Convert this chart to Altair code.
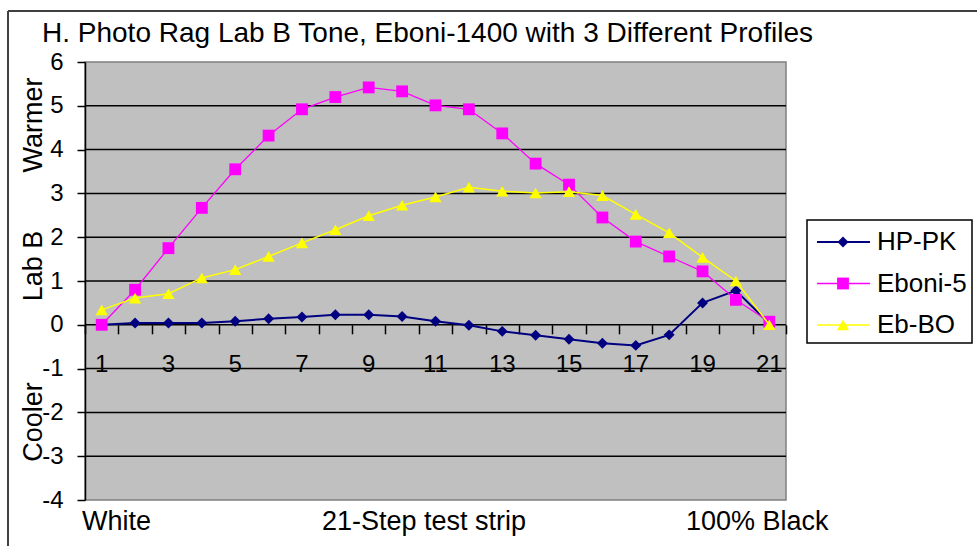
import altair as alt
import pandas as pd

# ---------------- data ----------------
steps = list(range(1, 22))
hp_pk = [0.0, 0.04, 0.04, 0.04, 0.08, 0.14, 0.18, 0.23, 0.23, 0.19, 0.08,
         -0.01, -0.15, -0.24, -0.33, -0.42, -0.47, -0.23, 0.50, 0.78, 0.03]
eboni5 = [0.0, 0.80, 1.75, 2.67, 3.55, 4.32, 4.92, 5.20, 5.42, 5.33, 5.01,
          4.92, 4.37, 3.68, 3.20, 2.45, 1.90, 1.56, 1.22, 0.57, 0.07]
ebbo = [0.34, 0.61, 0.71, 1.07, 1.26, 1.56, 1.87, 2.17, 2.49, 2.73, 2.92,
        3.14, 3.05, 3.01, 3.04, 2.95, 2.52, 2.10, 1.54, 1.00, 0.0]

series_names = ["HP-PK", "Eboni-5", "Eb-BO"]
series_values = [hp_pk, eboni5, ebbo]
series_colors = ["#000080", "#FF00FF", "#FFFF00"]
series_shapes = ["diamond", "square", "triangle-up"]
series_sizes = [120, 140, 150]
series_widths = [2, 1.3, 1.5]

y_ticks = list(range(-4, 7))
grid_values = list(range(-3, 6))
x_label_values = list(range(1, 22, 2))
x_tick_values = [s - 0.5 for s in range(1, 23)]

title_text = "H. Photo Rag Lab B Tone, Eboni-1400 with 3 Different Profiles"
y_title_parts = ["Warmer", "Lab B", "Cooler"]
x_title_parts = ["White", "21-Step test strip", "100% Black"]

FONT = "Liberation Sans"
W, H = 701, 438
PAD_L, PAD_T = 85, 62

# ---------------- scales / axes ----------------
xscale = alt.Scale(domain=[0.5, 21.5], nice=False, zero=False)
yscale = alt.Scale(domain=[-4, 6], nice=False, zero=False)
xaxis = alt.Axis(values=x_tick_values, labels=False, domain=False, ticks=True,
                 tickColor="black", tickSize=9, tickWidth=1.5, grid=False,
                 title=None, offset=-(H * 4 / 10))
yaxis = alt.Axis(values=y_ticks, grid=False, domain=True, domainColor="black",
                 domainWidth=1.5, tickColor="black", tickSize=8, tickWidth=1.5,
                 labelFontSize=24, labelFont=FONT, labelColor="black",
                 labelPadding=14, title=None, labelExpr="'' + datum.value")

X = alt.X("step:Q", scale=xscale, axis=xaxis)
Y = alt.Y("value:Q", scale=yscale, axis=yaxis)

layers = []

# gridlines
grid_df = pd.DataFrame({"g": grid_values})
layers.append(
    alt.Chart(grid_df).mark_rule(color="black", strokeWidth=1.5).encode(
        y=alt.Y("g:Q", scale=yscale, axis=yaxis)
    )
)

# series
for name, vals, col, shp, sz, w in zip(series_names, series_values, series_colors,
                                       series_shapes, series_sizes, series_widths):
    df = pd.DataFrame({"step": steps, "value": vals, "series": name})
    layers.append(alt.Chart(df).mark_line(color=col, strokeWidth=w).encode(x=X, y=Y))
    layers.append(alt.Chart(df).mark_point(shape=shp, filled=True, color=col, size=sz,
                                           opacity=1).encode(x=X, y=Y))

# x tick labels (odd steps)
xl_df = pd.DataFrame({"step": x_label_values, "lab": [str(v) for v in x_label_values]})
layers.append(
    alt.Chart(xl_df).mark_text(fontSize=24, font=FONT, color="black", align="center",
                               baseline="alphabetic").encode(
        x=X, y=alt.value(310), text="lab:N")
)

# title
layers.append(
    alt.Chart(pd.DataFrame({"t": [title_text]})).mark_text(
        fontSize=28, font=FONT, color="black", align="left", baseline="alphabetic"
    ).encode(x=alt.value(42 - PAD_L), y=alt.value(42 - PAD_T), text="t:N")
)

# y title parts (rotated)
for txt, cy in zip(y_title_parts, [125, 266, 422]):
    layers.append(
        alt.Chart(pd.DataFrame({"t": [txt]})).mark_text(
            fontSize=27, font=FONT, color="black", align="center",
            baseline="alphabetic", angle=270
        ).encode(x=alt.value(42 - PAD_L), y=alt.value(cy - PAD_T), text="t:N")
    )

# x title parts
for txt, lx in zip(x_title_parts, [82, 322, 686]):
    layers.append(
        alt.Chart(pd.DataFrame({"t": [txt]})).mark_text(
            fontSize=27, font=FONT, color="black", align="left", baseline="alphabetic"
        ).encode(x=alt.value(lx - PAD_L), y=alt.value(530 - PAD_T), text="t:N")
    )

# outer frame (top and left edges)
frame_df = pd.DataFrame({"f": [0]})
layers.append(
    alt.Chart(frame_df).mark_rule(color="#404040", strokeWidth=2).encode(
        x=alt.value(8 - PAD_L), x2=alt.value(977 - PAD_L), y=alt.value(11 - PAD_T))
)
layers.append(
    alt.Chart(frame_df).mark_rule(color="#404040", strokeWidth=2).encode(
        x=alt.value(8 - PAD_L), y=alt.value(11 - PAD_T), y2=alt.value(546 - PAD_T))
)

# legend
layers.append(
    alt.Chart(frame_df).mark_rect(fill="white", stroke="black", strokeWidth=1.5).encode(
        x=alt.value(807 - PAD_L), x2=alt.value(972 - PAD_L),
        y=alt.value(220 - PAD_T), y2=alt.value(343 - PAD_T))
)
for i, (name, col, shp, sz, w) in enumerate(zip(series_names, series_colors,
                                                series_shapes, series_sizes, series_widths)):
    ly = 242 + 41.5 * i - PAD_T
    ldf = pd.DataFrame({"t": [name]})
    layers.append(alt.Chart(ldf).mark_rule(color=col, strokeWidth=w).encode(
        x=alt.value(817 - PAD_L), x2=alt.value(870 - PAD_L), y=alt.value(ly)))
    layers.append(alt.Chart(ldf).mark_point(shape=shp, filled=True, color=col, size=sz,
                                            opacity=1).encode(
        x=alt.value(843 - PAD_L), y=alt.value(ly)))
    layers.append(alt.Chart(ldf).mark_text(fontSize=26, font=FONT, color="black",
                                           align="left", baseline="middle").encode(
        x=alt.value(877 - PAD_L), y=alt.value(ly), text="t:N"))

chart = alt.layer(*layers).properties(
    width=W, height=H,
    autosize=alt.AutoSizeParams(type="none"),
    padding={"left": PAD_L, "top": PAD_T, "right": 977 - PAD_L - W, "bottom": 546 - PAD_T - H},
    background="white",
).configure_view(fill="#C0C0C0", stroke="#808080", strokeWidth=1.5)

chart.save("out.html", embed_options={"renderer": "svg", "actions": False})
